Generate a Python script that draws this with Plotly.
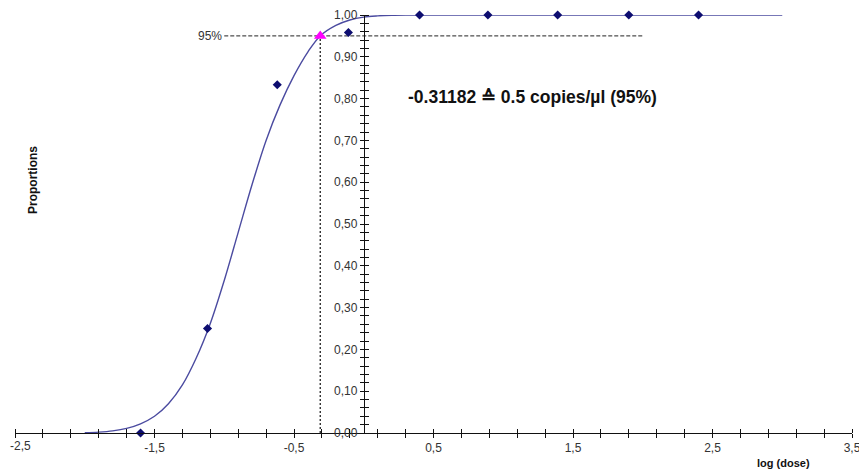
import plotly.graph_objects as go

# Observed data (log dose vs. proportion positive)
dose_log = [-1.6, -1.12, -0.62, -0.11, 0.4, 0.89, 1.39, 1.9, 2.4]
proportion = [0.0, 0.25, 0.833, 0.958, 1.0, 1.0, 1.0, 1.0, 1.0]

# Fitted curve
curve_x = [-2.0, -1.9, -1.8, -1.7, -1.6, -1.5, -1.4, -1.3, -1.2, -1.1, -1.0,
           -0.9, -0.8, -0.7, -0.6, -0.5, -0.4, -0.31182, -0.2, -0.1, 0.0,
           0.1, 0.2, 0.3, 0.5, 1.0, 2.0, 3.0]
curve_y = [0.0005, 0.002, 0.005, 0.011, 0.022, 0.040, 0.070, 0.115, 0.180,
           0.262, 0.365, 0.480, 0.595, 0.700, 0.785, 0.855, 0.912, 0.95,
           0.975, 0.988, 0.995, 0.998, 0.9995, 1.0, 1.0, 1.0, 1.0, 1.0]

cutoff_x = -0.31182
cutoff_level = 0.95
hline_x = [-1.0, 2.0]

x_ticks = [-2.5, -1.5, -0.5, 0.5, 1.5, 2.5, 3.5]
x_ticklabels = ["-2,5", "-1,5", "-0,5", "0,5", "1,5", "2,5", "3,5"]

fig = go.Figure()

# guide lines
fig.add_trace(go.Scatter(x=hline_x, y=[cutoff_level, cutoff_level], mode="lines",
                         line=dict(color="#222", width=1, dash="4px,2px"),
                         hoverinfo="skip"))
fig.add_trace(go.Scatter(x=[cutoff_x, cutoff_x], y=[0, cutoff_level], mode="lines",
                         line=dict(color="#222", width=1.3, dash="2px,2px"),
                         hoverinfo="skip"))

# fitted curve
fig.add_trace(go.Scatter(x=curve_x, y=curve_y, mode="lines", line_shape="spline",
                         line=dict(color="#4b4ba0", width=1.4), cliponaxis=False))

# data points
fig.add_trace(go.Scatter(x=dose_log, y=proportion, mode="markers",
                         marker=dict(symbol="diamond", size=7, color="#0d0d70"),
                         cliponaxis=False))

# 95% point
fig.add_trace(go.Scatter(x=[cutoff_x], y=[cutoff_level], mode="markers",
                         marker=dict(symbol="triangle-up", size=11, color="#ff00ff"),
                         cliponaxis=False))

# dummy trace for overlay axes
fig.add_trace(go.Scatter(x=[None], y=[None], xaxis="x2", yaxis="y2",
                         mode="markers", hoverinfo="skip"))

font_family = "Liberation Sans, Arial, sans-serif"
tickfont = dict(family=font_family, size=12, color="#333")
y0pos = 2.5 / 6.0
tk = dict(ticks="outside", ticklen=4, tickcolor="#111")

# first label sits at the very edge; drawn as an annotation so it is not hidden
shown_ticklabels = [""] + x_ticklabels[1:]

# page body has an 8px margin, so the figure is sized to fit inside the window
fig.update_layout(
    width=859, height=465,
    margin=dict(l=7, r=15, t=7, b=40, autoexpand=False),
    paper_bgcolor="white", plot_bgcolor="white",
    showlegend=False,
    separators=",.",
    xaxis=dict(range=[-2.5, 3.5], domain=[0, 1], anchor="y", automargin=False,
               showline=True, linecolor="#111", linewidth=1,
               tickmode="array", tickvals=x_ticks, ticktext=shown_ticklabels,
               minor=dict(dtick=0.2, tick0=-2.5, **tk), **tk,
               showgrid=False, zeroline=False, tickfont=tickfont),
    xaxis2=dict(range=[-2.5, 3.5], overlaying="x", anchor="free", position=0,
                automargin=False,
                side="top", showline=False, showticklabels=False,
                tickmode="array", tickvals=x_ticks,
                minor=dict(dtick=0.2, tick0=-2.5, **tk), **tk,
                showgrid=False, zeroline=False),
    yaxis=dict(range=[0, 1.0], domain=[0, 1], anchor="free", position=y0pos,
               automargin=False,
               side="left", showline=True, linecolor="#111", linewidth=1,
               dtick=0.1, tick0=0, tickformat=".2f",
               minor=dict(dtick=0.02, **tk), **tk,
               showgrid=False, zeroline=False, tickfont=tickfont),
    yaxis2=dict(range=[0, 1.0], overlaying="y", anchor="free", position=y0pos,
                automargin=False,
                side="right", showline=False, showticklabels=False,
                dtick=0.1, tick0=0,
                minor=dict(dtick=0.02, **tk), **tk,
                showgrid=False, zeroline=False),
    annotations=[
        dict(x=x_ticks[0], y=0, xref="x", yref="y", text=x_ticklabels[0],
             showarrow=False, xanchor="left", yanchor="top", xshift=-7, yshift=-4,
             font=tickfont),
        dict(x=-1.0, y=cutoff_level, xref="x", yref="y", text="95%", showarrow=False,
             xanchor="right", yanchor="middle",
             font=dict(family=font_family, size=12, color="#333")),
        dict(x=1.21, y=0.804, xref="x", yref="y",
             text="<b>-0.31182 \u2259 0.5 copies/\u00b5l (95%)</b>", showarrow=False,
             xanchor="center", yanchor="middle",
             font=dict(family=font_family, size=17.5, color="#111")),
        dict(x=(783 - 15) / 837.0, y=-(463 - 433) / 418.0, xref="paper", yref="paper",
             text="<b>log (dose)</b>", showarrow=False, xanchor="center", yanchor="middle",
             font=dict(family=font_family, size=11, color="#111")),
        dict(x=(33 - 15) / 837.0, y=(433 - 180) / 418.0, xref="paper", yref="paper",
             text="<b>Proportions</b>", showarrow=False, textangle=-90,
             xanchor="center", yanchor="middle",
             font=dict(family=font_family, size=12, color="#111")),
    ],
)

fig.write_html("out.html")
